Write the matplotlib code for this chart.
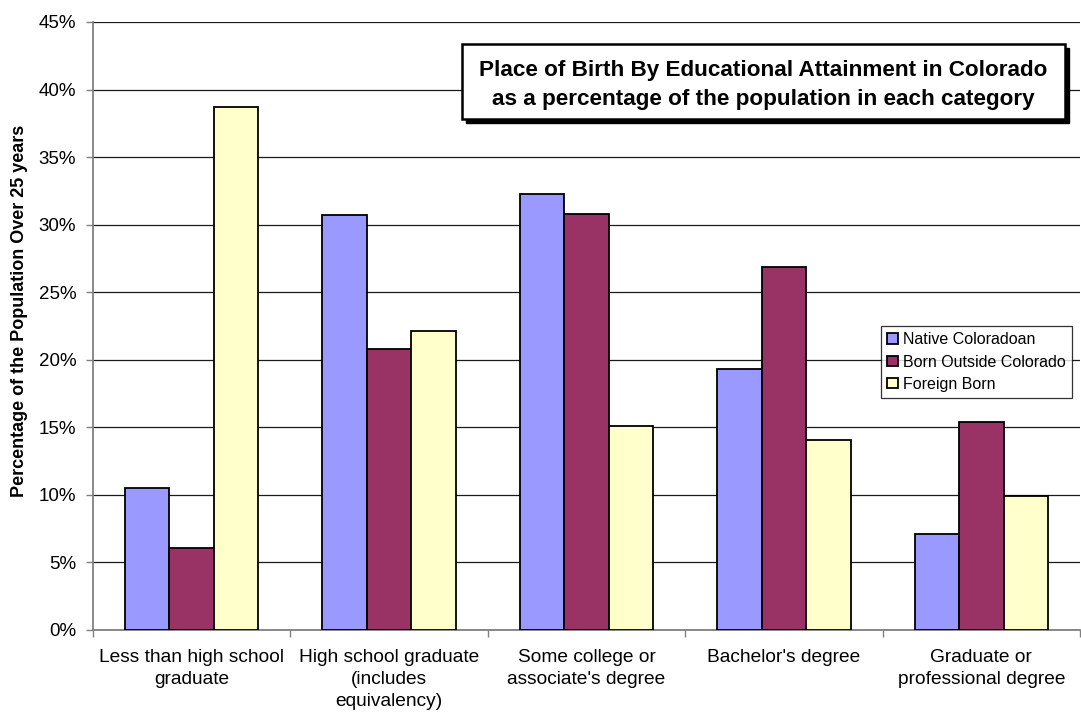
import matplotlib
matplotlib.use("Agg")
import matplotlib.pyplot as plt
import numpy as np
from matplotlib.patches import Rectangle
from matplotlib.ticker import FuncFormatter, FixedLocator

categories = ["Less than high school\ngraduate",
              "High school graduate\n(includes\nequivalency)",
              "Some college or\nassociate's degree",
              "Bachelor's degree",
              "Graduate or\nprofessional degree"]
series_names = ["Native Coloradoan", "Born Outside Colorado", "Foreign Born"]
native = [10.5, 30.7, 32.3, 19.35, 7.1]
outside = [6.1, 20.8, 30.8, 26.85, 15.4]
foreign = [38.7, 22.15, 15.1, 14.05, 9.95]
colors = ["#9999FF", "#993366", "#FFFFCC"]
yticks = [0, 5, 10, 15, 20, 25, 30, 35, 40, 45]
title_lines = ["Place of Birth By Educational Attainment in Colorado",
               "as a percentage of the population in each category"]

plt.rcParams['font.family'] = ['Liberation Sans', 'DejaVu Sans']

W, H = 1081, 715
fig = plt.figure(figsize=(W / 100, H / 100), dpi=100)
ax = fig.add_axes([93 / W, 1 - 630 / H, 987 / W, 608 / H])

x = np.arange(len(categories))
bw = 0.225
for i, (vals, name, c) in enumerate(zip([native, outside, foreign], series_names, colors)):
    ax.bar(x + (i - 1) * bw, vals, width=bw, color=c, edgecolor='black',
           linewidth=1.3, label=name, zorder=3)

ax.set_xlim(-0.5, len(categories) - 0.5)
ax.set_ylim(0, 45)
ax.set_yticks(yticks)
ax.yaxis.set_major_formatter(FuncFormatter(lambda v, p: f"{v:.0f}%"))
ax.grid(axis='y', color='#1a1a1a', linewidth=0.9, zorder=0)
ax.set_axisbelow(True)

ax.set_xticks(x)
ax.set_xticklabels(categories, fontsize=13.8, linespacing=1.35)
ax.tick_params(axis='x', which='major', length=0, pad=14)
ax.xaxis.set_minor_locator(FixedLocator(np.arange(len(categories) + 1) - 0.5))
ax.tick_params(axis='x', which='minor', length=5, color='#808080', width=1)
ax.tick_params(axis='y', length=5, color='#808080', width=1, labelsize=13.5, pad=7)

for s in ['top', 'right']:
    ax.spines[s].set_visible(False)
for s in ['left', 'bottom']:
    ax.spines[s].set_color('#808080')
    ax.spines[s].set_linewidth(1.3)

ax.set_ylabel("Percentage of the Population Over 25 years", fontsize=13,
              fontweight='bold')
ax.yaxis.set_label_coords(-0.066, 0.525)

leg = ax.legend(loc='upper left', bbox_to_anchor=(881 / W, 1 - 326 / H),
                bbox_transform=fig.transFigure, fontsize=11.5, frameon=True,
                fancybox=False, handlelength=0.65, handleheight=0.65,
                handletextpad=0.3, borderpad=0.4, labelspacing=0.45,
                borderaxespad=0)
leg.get_frame().set_edgecolor('black')
leg.get_frame().set_linewidth(0.9)

# title box with shadow
bx0, by0, bx1, by1 = 462, 44, 1065, 119
fig.patches.append(Rectangle(((bx0 + 4) / W, 1 - (by1 + 4) / H), (bx1 - bx0) / W,
                             (by1 - by0) / H, transform=fig.transFigure,
                             facecolor='black', edgecolor='black', zorder=5))
fig.patches.append(Rectangle((bx0 / W, 1 - by1 / H), (bx1 - bx0) / W,
                             (by1 - by0) / H, transform=fig.transFigure,
                             facecolor='white', edgecolor='black', linewidth=1.8,
                             zorder=6))
for line, yb in zip(title_lines, [76, 104.5]):
    fig.text((bx0 + bx1) / 2 / W, 1 - yb / H, line, ha='center', va='baseline',
             fontsize=16.2, fontweight='bold', zorder=7)

fig.savefig("out.png", dpi=100)
